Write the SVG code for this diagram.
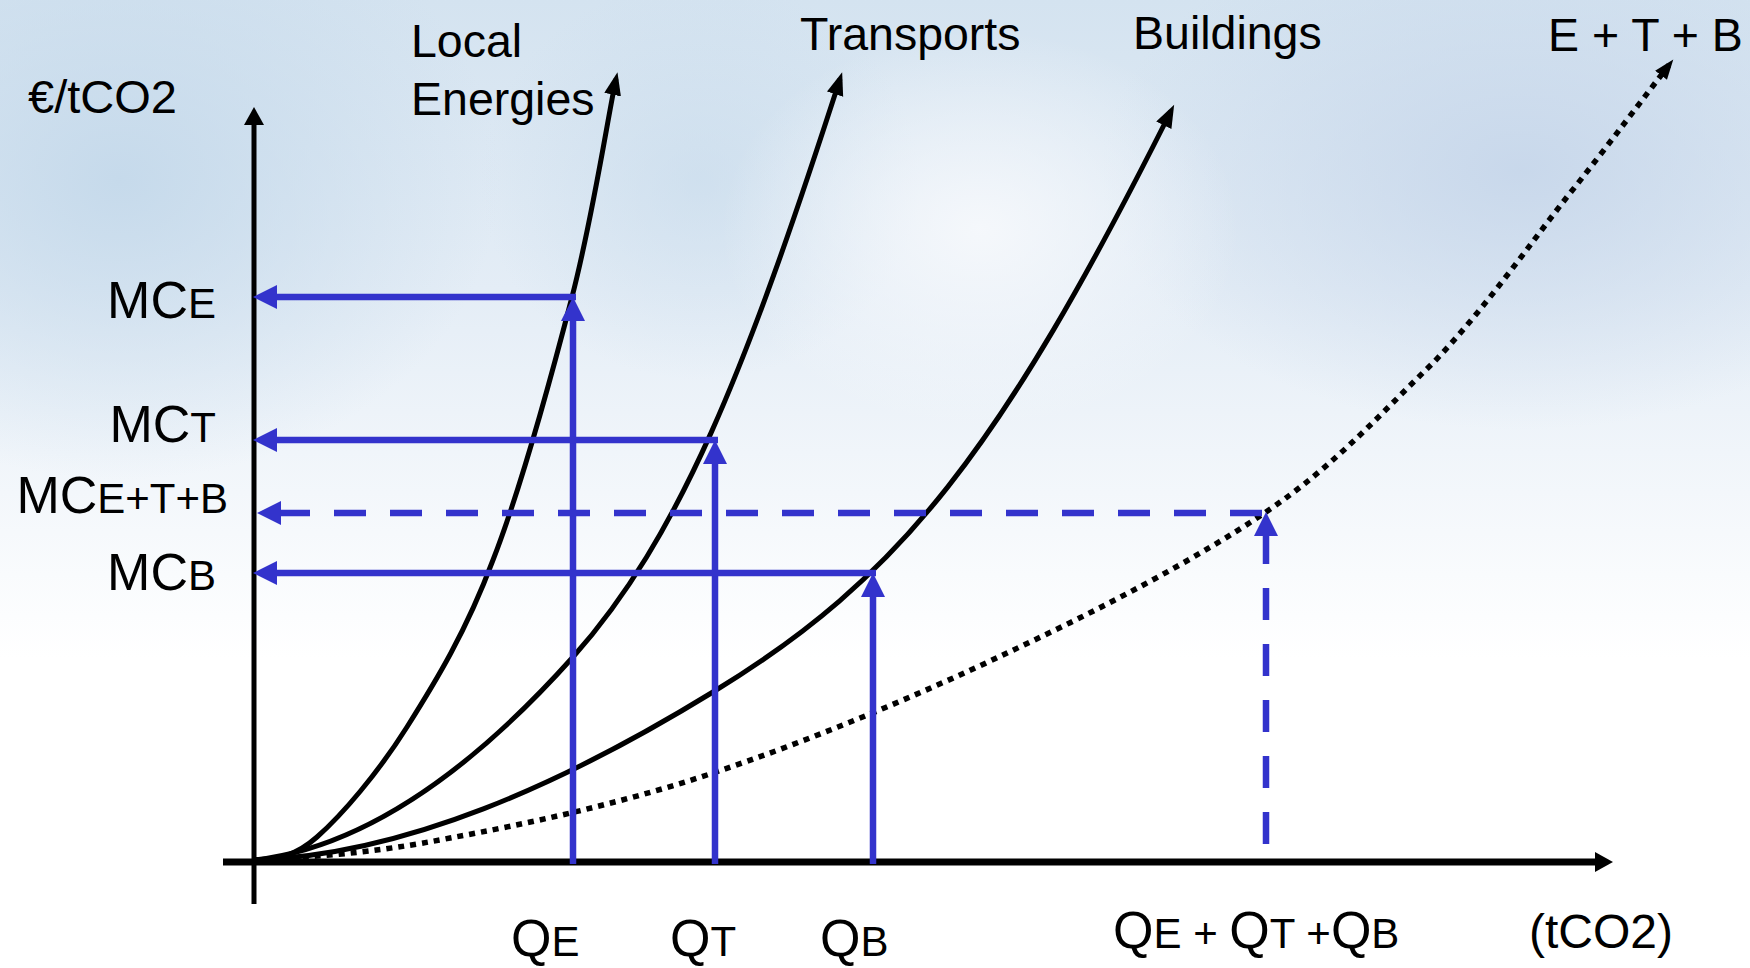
<svg xmlns="http://www.w3.org/2000/svg" width="1750" height="968" viewBox="0 0 1750 968">
<style>
.lbl{font-family:"Liberation Sans",Arial,sans-serif;fill:#000;}
.t46{font-size:46.5px;}
.big{font-size:52px;}
.sub{font-size:42px;}
.curve{fill:none;stroke:#000;stroke-width:5;}
.dot{fill:none;stroke:#000;stroke-width:5.5;stroke-dasharray:6 6;}
.blue{fill:none;stroke:#3333cc;stroke-width:6.5;}
.bdash{fill:none;stroke:#3333cc;stroke-width:6.5;stroke-dasharray:32 24;}
</style>
<defs>
<linearGradient id="sky" x1="0" y1="0" x2="0" y2="1">
<stop offset="0" stop-color="#d4e3f0"/>
<stop offset="0.3" stop-color="#e4edf6"/>
<stop offset="0.55" stop-color="#f6f9fc"/>
<stop offset="0.68" stop-color="#ffffff"/>
<stop offset="1" stop-color="#ffffff"/>
</linearGradient>
<radialGradient id="blobL" cx="0.5" cy="0.5" r="0.5">
<stop offset="0" stop-color="#c3d8ea" stop-opacity="0.9"/>
<stop offset="1" stop-color="#c3d8ea" stop-opacity="0"/>
</radialGradient>
<radialGradient id="blobR" cx="0.5" cy="0.5" r="0.5">
<stop offset="0" stop-color="#c6d6ea" stop-opacity="0.9"/>
<stop offset="1" stop-color="#c6d6ea" stop-opacity="0"/>
</radialGradient>
<radialGradient id="blobW" cx="0.5" cy="0.5" r="0.5">
<stop offset="0" stop-color="#f7f9fc" stop-opacity="0.9"/>
<stop offset="1" stop-color="#f7f9fc" stop-opacity="0"/>
</radialGradient>
<marker id="axArrow" markerUnits="userSpaceOnUse" markerWidth="20" markerHeight="22" refX="10" refY="10" orient="auto">
<path d="M0,0 L18,10 L0,20 z" fill="#000"/>
</marker>
<marker id="cvArrow" markerUnits="userSpaceOnUse" markerWidth="26" markerHeight="20" refX="16" refY="8.5" orient="auto">
<path d="M0,0 L23,8.5 L0,17 z" fill="#000"/>
</marker>
<marker id="dtArrow" markerUnits="userSpaceOnUse" markerWidth="22" markerHeight="18" refX="13" refY="7.5" orient="auto">
<path d="M0,0 L20,7.5 L0,15 z" fill="#000"/>
</marker>
<marker id="blArrow" markerUnits="userSpaceOnUse" markerWidth="26" markerHeight="26" refX="16" refY="12" orient="auto">
<path d="M0,0 L24,12 L0,24 z" fill="#3333cc"/>
</marker>
</defs>

<g id="background">
<rect x="0" y="0" width="1750" height="968" fill="#ffffff"/>
<rect x="0" y="0" width="1750" height="968" fill="url(#sky)"/>
<ellipse cx="120" cy="180" rx="380" ry="300" fill="url(#blobL)"/>
<ellipse cx="700" cy="180" rx="220" ry="200" fill="url(#blobL)" opacity="0.6"/>
<ellipse cx="1520" cy="170" rx="420" ry="260" fill="url(#blobR)"/>
<ellipse cx="980" cy="230" rx="260" ry="200" fill="url(#blobW)"/>
</g>

<g id="axes">
<path d="M254,904 L254,115" fill="none" stroke="#000" stroke-width="5" marker-end="url(#axArrow)"/>
<path d="M223,862 L1605,862" fill="none" stroke="#000" stroke-width="7" marker-end="url(#axArrow)"/>
</g>

<g id="connectors">
<path id="curve-local" class="curve" marker-end="url(#cvArrow)" d="M255,860 C275,858 292,859 317,837 C342,815 378,773 407,727 C436,681 466,632 493,560 C521,488 551,378 572,297 C593,216 608,116 616,79"/>
<path id="curve-transports" class="curve" marker-end="url(#cvArrow)" d="M255,860 C357,848 463,780 573,657 C680,537 746,370 840,79"/>
<path id="curve-buildings" class="curve" marker-end="url(#cvArrow)" d="M255,860 C405,855 563,784 713,692 C900,578 1000,452 1171,111"/>
<path id="curve-etb" class="dot" marker-end="url(#dtArrow)" d="M255,860 C315,857 374,853 450,838 C526,824 620,804 713,773 C806,742 915,697 1007,653 C1099,610 1195,560 1266,512 C1337,464 1383,411 1433,363 C1483,311 1527,248 1567,197 C1607,147 1645,96 1669,65"/>

<path id="h-mce" class="blue" marker-end="url(#blArrow)" d="M576,297 L261,297"/>
<path id="v-qe" class="blue" marker-end="url(#blArrow)" d="M573,864 L573,305"/>
<path id="h-mct" class="blue" marker-end="url(#blArrow)" d="M718,440 L261,440"/>
<path id="v-qt" class="blue" marker-end="url(#blArrow)" d="M715,864 L715,448"/>
<path id="h-mcb" class="blue" marker-end="url(#blArrow)" d="M876,573 L261,573"/>
<path id="v-qb" class="blue" marker-end="url(#blArrow)" d="M873,864 L873,581"/>
<path id="h-mcetb" class="bdash" marker-end="url(#blArrow)" d="M1262,513 L265,513"/>
<path id="v-qetb" class="bdash" marker-end="url(#blArrow)" d="M1266,844 L1266,520"/>
</g>

<g id="label-ylabel"><text class="lbl" x="28" y="113" font-size="47">€/tCO2</text></g>
<g id="label-local"><text class="lbl t46" x="411" y="57">Local</text><text class="lbl t46" x="411" y="115">Energies</text></g>
<g id="label-transports"><text class="lbl t46" x="800" y="50">Transports</text></g>
<g id="label-buildings"><text class="lbl t46" x="1133" y="49">Buildings</text></g>
<g id="label-etb"><text class="lbl t46" x="1548" y="51">E + T + B</text></g>

<g id="label-mce"><text class="lbl" x="216" y="318" text-anchor="end"><tspan class="big">MC</tspan><tspan class="sub">E</tspan></text></g>
<g id="label-mct"><text class="lbl" x="216" y="442" text-anchor="end"><tspan class="big">MC</tspan><tspan class="sub">T</tspan></text></g>
<g id="label-mcetb"><text class="lbl" x="228" y="513" text-anchor="end"><tspan class="big">MC</tspan><tspan class="sub">E+T+B</tspan></text></g>
<g id="label-mcb"><text class="lbl" x="216" y="590" text-anchor="end"><tspan class="big">MC</tspan><tspan class="sub">B</tspan></text></g>

<g id="label-qe"><text class="lbl" x="511" y="956"><tspan class="big">Q</tspan><tspan class="sub">E</tspan></text></g>
<g id="label-qt"><text class="lbl" x="670" y="956"><tspan class="big">Q</tspan><tspan class="sub">T</tspan></text></g>
<g id="label-qb"><text class="lbl" x="820" y="956"><tspan class="big">Q</tspan><tspan class="sub">B</tspan></text></g>
<g id="label-qsum"><text class="lbl" x="1113" y="948"><tspan class="big">Q</tspan><tspan class="sub">E + </tspan><tspan class="big">Q</tspan><tspan class="sub">T +</tspan><tspan class="big">Q</tspan><tspan class="sub">B</tspan></text></g>
<g id="label-xunit"><text class="lbl" x="1529" y="948" font-size="48">(tCO2)</text></g>
</svg>
